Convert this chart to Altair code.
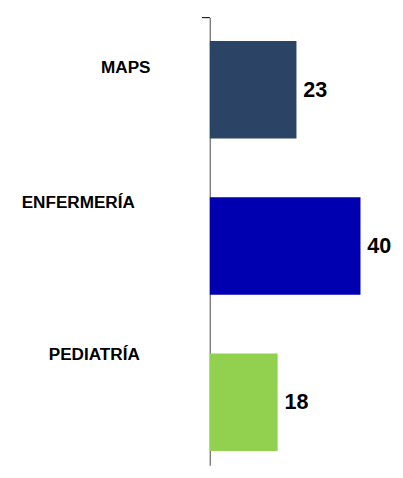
import altair as alt
import pandas as pd

categories = ["MAPS", "ENFERMERÍA", "PEDIATRÍA"]
values = [23, 40, 18]
colors = ["#2B4466", "#0000B0", "#92D050"]

df = pd.DataFrame({"cat": categories, "val": values})

FONT = "Liberation Sans"

y_enc = alt.Y(
    "cat:N",
    sort=categories,
    scale=alt.Scale(paddingInner=0.376, paddingOuter=0.1207, align=0.623),
    axis=alt.Axis(
        title=None,
        ticks=False,
        tickSize=0,
        grid=False,
        domain=True,
        domainColor="#808080",
        domainWidth=1.5,
        labelFont=FONT,
        labelFontSize=17.5,
        labelFontWeight="bold",
        labelColor="#000000",
        labelAlign="right",
        labelBaseline="middle",
        labelLimit=300,
        labelPadding={
            "condition": [
                {"test": "datum.value === 'MAPS'", "value": 61},
                {"test": "datum.value === 'ENFERMERÍA'", "value": 77},
            ],
            "value": 72,
        },
        labelOffset={
            "condition": [
                {"test": "datum.value === 'MAPS'", "value": -22.5},
                {"test": "datum.value === 'ENFERMERÍA'", "value": -44},
            ],
            "value": -48,
        },
    ),
)

x_enc = alt.X("val:Q", scale=alt.Scale(domain=[0, 45]), axis=None)

base = alt.Chart(df)

bars = base.mark_bar().encode(
    x=x_enc,
    y=y_enc,
    color=alt.Color("cat:N", scale=alt.Scale(domain=categories, range=colors), legend=None),
)

text = base.mark_text(
    align="left", baseline="middle", dx=7, font=FONT, fontSize=22, fontWeight="bold", color="#000000"
).encode(
    x=x_enc,
    y=alt.Y("cat:N", sort=categories),
    text=alt.Text("val:Q"),
)

tick = alt.Chart(pd.DataFrame({"t": [0]})).mark_rule(color="#222222", strokeWidth=1.2).encode(
    x=alt.value(-8), x2=alt.value(0), y=alt.value(0)
)

chart = (
    alt.layer(bars, text, tick)
    .properties(
        width=173,
        height=457,
        autosize=alt.AutoSizeParams(type="none"),
        padding={"left": 206, "top": 5, "right": 16, "bottom": 0},
    )
    .configure_view(stroke=None)
)

chart.save("out.html", embed_options={"renderer": "svg", "actions": False})
